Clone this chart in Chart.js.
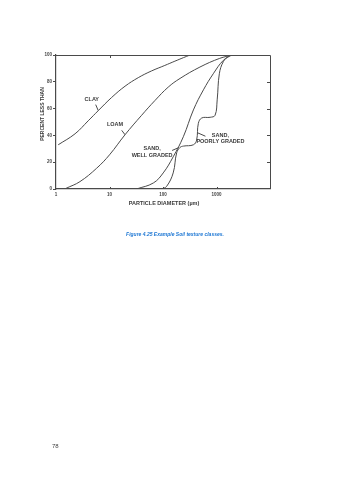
<!DOCTYPE html>
<html>
<head>
<meta charset="utf-8">
<script src="https://cdn.jsdelivr.net/npm/chart.js@4/dist/chart.umd.min.js"></script>
<style>
  html, body { margin: 0; padding: 0; background: #fff; width: 340px; height: 480px; overflow: hidden; }
  #wrap { position: absolute; left: 0; top: 0; width: 340px; height: 480px; }
  canvas { position: absolute; left: 0; top: 0; filter: blur(0.3px); }
  .caption { position: absolute; left: 0; width: 350px; top: 231px; text-align: center;
    font: italic bold 5px "Liberation Sans", Arial, sans-serif; color: #1f78d4; }
  .pageno { position: absolute; left: 52px; top: 443px; font: 6px "Liberation Sans", Arial, sans-serif; color: #444; }
</style>
</head>
<body>
<div id="wrap">
  <canvas id="c" width="340" height="480"></canvas>
  <div class="caption">Figure 4.25 Example Soil texture classes.</div>
  <div class="pageno">78</div>
</div>
<script>
// Particle-size distributions, percent finer vs. diameter (µm)
const clayDiam  = [1.1, 2.27, 4.0, 6.17, 10.96, 19.5, 34.5, 61, 108, 167, 240, 320];
const clayPct   = [33, 41.2, 50.9, 58.5, 68.3, 76.7, 83.1, 88.1, 92.2, 95.4, 98, 100];

const loamDiam  = [1.54, 2.8, 5.75, 10, 19.5, 39.8, 70.6, 125, 208, 490, 1150, 2000];
const loamPct   = [0.5, 5.5, 15.5, 25.5, 40.5, 55, 66, 76, 82.5, 91, 97.5, 100];

const sandWellDiam = [32, 66, 101, 155, 240, 370, 570, 870, 1340, 1930];
const sandWellPct  = [0, 4.5, 12, 24, 39, 59, 74, 86, 96, 100];

const sandPoorDiam = [95, 117, 155, 180, 208, 240, 370, 425, 458, 530, 760, 940, 1030, 1130, 1340, 1680, 2000];
const sandPoorPct  = [0, 2, 12, 27, 31, 32, 33, 36.5, 49, 53, 53.5, 55, 66.5, 86, 95, 99, 100];

const xTickValues = [1, 10, 100, 1000, 10000];
const xTickLabels = ['1', '10', '100', '1000', ''];
const yTickValues = [0, 20, 40, 60, 80, 100];

const xTitle = 'PARTICLE DIAMETER (µm)';
const yTitle = 'PERCENT LESS THAN';

// Curve labels, anchored to the data point their leader line touches
const curveLabels = [
  { lines: ['CLAY'], at: [6.17, 58.5], text: [-6.5, -11.5], from: [-2.6, -6] },
  { lines: ['LOAM'], at: [19.5, 40.5], text: [-10, -10.5], from: [-3.3, -4.4] },
  { lines: ['SAND,', 'WELL GRADED'], at: [200, 31], text: [-27, 1.5], from: [-7, 3] },
  { lines: ['SAND,', 'POORLY GRADED'], at: [440, 42], text: [23, 2.5], from: [8, 3.5] }
];

const pts = (xs, ys) => xs.map((x, i) => ({ x, y: ys[i] }));
const INK = '#4a4a4a';
const FONT = '"Liberation Sans", Arial, sans-serif';

const line = (data) => ({
  data, showLine: true, borderColor: INK, borderWidth: 1, pointRadius: 0,
  tension: 0.4, fill: false
});

const decor = {
  id: 'decor',
  afterDraw(chart) {
    const { ctx, chartArea: a, scales: { x, y } } = chart;
    ctx.save();
    ctx.strokeStyle = INK;
    ctx.lineWidth = 1;
    // top and right frame
    ctx.beginPath();
    ctx.moveTo(a.left, a.top + 0.5); ctx.lineTo(a.right + 0.5, a.top + 0.5);
    ctx.lineTo(a.right + 0.5, a.bottom);
    ctx.stroke();
    // inward ticks on the right edge
    ctx.beginPath();
    yTickValues.slice(1, -1).forEach(v => {
      const py = Math.round(y.getPixelForValue(v)) + 0.5;
      ctx.moveTo(a.right, py); ctx.lineTo(a.right - 3, py);
    });
    // inward ticks on top and bottom edges
    xTickValues.slice(1, -1).forEach(v => {
      const px = Math.round(x.getPixelForValue(v)) + 0.5;
      ctx.moveTo(px, a.bottom); ctx.lineTo(px, a.bottom - 2);
      if (v === 10) { ctx.moveTo(px, a.top); ctx.lineTo(px, a.top + 3); }
    });
    ctx.stroke();

    // axis titles
    ctx.fillStyle = '#3a3a3a';
    ctx.font = 'bold 5.5px ' + FONT;
    ctx.textAlign = 'center';
    ctx.textBaseline = 'middle';
    ctx.fillText(xTitle, (a.left + a.right) / 2 + 1, a.bottom + 14);
    ctx.save();
    ctx.translate(a.left - 13, y.getPixelForValue(50) - 8);
    ctx.rotate(-Math.PI / 2);
    ctx.font = 'bold 5px ' + FONT;
    ctx.fillText(yTitle, 0, 0);
    ctx.restore();

    // curve labels with leader lines
    ctx.font = 'bold 5.5px ' + FONT;
    curveLabels.forEach(l => {
      const px = x.getPixelForValue(l.at[0]);
      const py = y.getPixelForValue(l.at[1]);
      ctx.beginPath();
      ctx.moveTo(px + l.from[0], py + l.from[1]);
      ctx.lineTo(px, py);
      ctx.stroke();
      l.lines.forEach((t, i) => {
        ctx.fillText(t, px + l.text[0], py + l.text[1] + i * 6.5);
      });
    });
    ctx.restore();
  }
};

new Chart(document.getElementById('c'), {
  type: 'scatter',
  data: {
    datasets: [
      line(pts(clayDiam, clayPct)),
      line(pts(loamDiam, loamPct)),
      line(pts(sandWellDiam, sandWellPct)),
      line(pts(sandPoorDiam, sandPoorPct))
    ]
  },
  options: {
    responsive: false,
    animation: false,
    devicePixelRatio: 1,
    layout: { padding: { left: 0, top: 55, right: 70, bottom: 271 } },
    plugins: { legend: { display: false }, tooltip: { enabled: false } },
    scales: {
      x: {
        type: 'logarithmic', min: 1, max: 10000,
        afterBuildTicks: s => { s.ticks = xTickValues.map(v => ({ value: v })); },
        afterFit: s => { s.height = 20; },
        ticks: {
          callback: (v) => xTickLabels[xTickValues.indexOf(v)] ?? '',
          font: { size: 4.5, family: FONT, weight: 'bold' }, color: '#444',
          maxRotation: 0, autoSkip: false, padding: 3
        },
        grid: { display: true, drawOnChartArea: false, drawTicks: false, color: INK },
        border: { color: INK, width: 1.2 }
      },
      y: {
        min: 0, max: 100,
        afterBuildTicks: s => { s.ticks = yTickValues.map(v => ({ value: v })); },
        afterFit: s => { s.width = 56; },
        ticks: {
          font: { size: 4.5, family: FONT, weight: 'bold' }, color: '#444', padding: 1
        },
        grid: { display: true, drawOnChartArea: false, drawTicks: true, tickLength: 3, color: INK },
        border: { color: INK, width: 1.2 }
      }
    }
  },
  plugins: [decor]
});
</script>
</body>
</html>
